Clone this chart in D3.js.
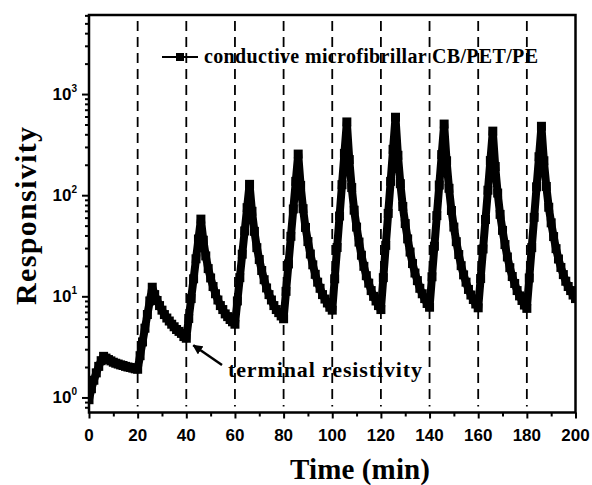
<!doctype html>
<html lang="en">

<head>
    <meta charset="utf-8">
    <title>Responsivity vs time</title>
    <script src="https://cdn.jsdelivr.net/npm/d3@7"></script>
    <style>
        body { margin: 0; background: #fff; }
        svg { display: block; }
        .tick-label { font-family: "Liberation Sans", Arial, sans-serif; font-weight: bold; font-size: 17px; }
        .serif { font-family: "Liberation Serif", "Times New Roman", serif; font-weight: bold; }
    </style>
</head>

<body>
    <svg></svg>

    <script>
        var width = 592;
        var height = 485;

        // sampled every minute, t = 0 ... 200
        var timeMin = d3.range(0, 201, 1);
        var responsivity = [
            0.95, 1.22, 1.48, 1.75, 2.03, 2.31, 2.55, 2.45, 2.37, 2.30, 2.23, 2.18, 2.14, 2.10, 2.07, 2.03, 2.00, 1.98, 1.95, 1.92,
            1.90, 2.59, 3.54, 4.84, 6.61, 9.0, 12.3, 10.4, 9.1, 8.1, 7.3, 6.6, 6.1, 5.7, 5.3, 5.0, 4.7, 4.5, 4.3, 4.0,
            3.85, 6.04, 9.5, 14.9, 23.5, 36.9, 58, 35.9, 25.1, 18.8, 15.2, 12.5, 10.6, 9.2, 8.1, 7.4, 6.7, 6.3, 5.9, 5.6,
            5.3, 9.0, 15.3, 26.1, 44.3, 75.3, 128, 69.3, 43.9, 30.3, 23.1, 18.0, 14.6, 12.1, 10.4, 9.2, 8.1, 7.4, 6.9, 6.4,
            6.0, 11.2, 20.9, 39.2, 73.1, 137, 255, 125, 73.6, 48.0, 34.8, 26.2, 20.5, 16.5, 13.8, 12.0, 10.4, 9.4, 8.6, 7.8,
            7.3, 14.9, 30.4, 62.2, 127, 259, 530, 225, 119, 71.1, 48.4, 34.4, 25.5, 19.8, 16.0, 13.5, 11.4, 10.0, 9.0, 8.1,
            7.4, 15.3, 31.9, 66.1, 137, 284, 590, 248, 130, 77.3, 52.4, 37.0, 27.4, 21.1, 17.0, 14.3, 12.0, 10.6, 9.5, 8.5,
            7.8, 15.6, 31.3, 62.8, 126, 252, 505, 219, 117, 70.6, 48.4, 34.7, 25.9, 20.1, 16.3, 13.8, 11.7, 10.3, 9.3, 8.4,
            7.7, 15.0, 29.4, 57.5, 112, 220, 430, 192, 105, 64.6, 44.9, 32.5, 24.5, 19.2, 15.7, 13.4, 11.4, 10.1, 9.1, 8.2,
            7.6, 15.2, 30.3, 60.4, 121, 240, 480, 219, 122, 76.0, 53.3, 39.0, 29.6, 23.4, 19.3, 16.4, 14.1, 12.5, 11.4, 10.3,
            9.5
        ];
        var switchTimes = [20, 40, 60, 80, 100, 120, 140, 160, 180];
        var xTicks = [0, 20, 40, 60, 80, 100, 120, 140, 160, 180, 200];
        var xMinorTicks = [10, 30, 50, 70, 90, 110, 130, 150, 170, 190];
        var yTicks = [1, 10, 100, 1000];
        var yExponents = ["0", "1", "2", "3"];
        var seriesName = "conductive microfibrillar CB/PET/PE";
        var noteText = "terminal resistivity";
        var noteTime = 40;

        var dataset = timeMin.map(function (t, i) { return [t, responsivity[i]]; });

        var plotLeft = 89, plotRight = 575.5, plotTop = 15, plotBottom = 412.5;

        var xScale = d3.scaleLinear().domain([0, 200]).range([plotLeft, plotRight]);
        var yScale = d3.scaleLog().domain([0.71, 6050]).range([plotBottom, plotTop]);

        var yMinor = [];
        [0.1, 1, 10, 100, 1000].forEach(function (dec) {
            for (var k = 2; k <= 9; k++) {
                var v = dec * k;
                if (v >= 0.71 && v <= 6050) yMinor.push(v);
            }
        });

        var svg = d3.select('svg').attr('width', width).attr('height', height);

        svg.append('clipPath')
            .attr('id', 'plot-area')
            .append('rect')
            .attr('x', plotLeft).attr('y', plotTop)
            .attr('width', plotRight - plotLeft).attr('height', plotBottom - plotTop);

        // dashed switching lines
        svg.append('g')
            .selectAll('line')
            .data(switchTimes)
            .enter()
            .append('line')
            .attr('x1', function (d) { return xScale(d); })
            .attr('x2', function (d) { return xScale(d); })
            .attr('y1', plotTop + 6)
            .attr('y2', plotBottom - 6)
            .attr('stroke', '#000')
            .attr('stroke-width', 1.8)
            .attr('stroke-dasharray', '10,6');

        // data
        var plot = svg.append('g').attr('clip-path', 'url(#plot-area)');
        var line = d3.line()
            .x(function (d) { return xScale(d[0]); })
            .y(function (d) { return yScale(d[1]); });
        plot.append('path')
            .datum(dataset)
            .attr('d', line)
            .attr('fill', 'none')
            .attr('stroke', '#000')
            .attr('stroke-width', 8)
            .attr('stroke-linejoin', 'round');
        plot.selectAll('rect.pt')
            .data(dataset)
            .enter()
            .append('rect')
            .attr('class', 'pt')
            .attr('x', function (d) { return xScale(d[0]) - 4.5; })
            .attr('y', function (d) { return yScale(d[1]) - 4.5; })
            .attr('width', 9)
            .attr('height', 9)
            .attr('fill', '#000');

        // axes
        var xAxis = d3.axisBottom(xScale).tickValues(xTicks).tickSize(6).tickFormat('');
        var xAxisMinor = d3.axisBottom(xScale).tickValues(xMinorTicks).tickSize(4).tickFormat('');
        var yAxis = d3.axisLeft(yScale).tickValues(yTicks).tickSize(7).tickFormat('');
        var yAxisMinor = d3.axisLeft(yScale).tickValues(yMinor).tickSize(4).tickFormat('');

        [xAxis, xAxisMinor].forEach(function (ax) {
            svg.append('g')
                .attr('class', 'axis-x')
                .attr('transform', 'translate(0, ' + plotBottom + ')')
                .call(ax);
        });
        [yAxis, yAxisMinor].forEach(function (ax) {
            svg.append('g')
                .attr('class', 'axis-y')
                .attr('transform', 'translate(' + plotLeft + ', 0)')
                .call(ax);
        });
        svg.selectAll('.axis-x path, .axis-y path').remove();
        svg.selectAll('.tick line').attr('stroke', '#000').attr('stroke-width', 2);

        // frame
        svg.append('rect')
            .attr('x', plotLeft).attr('y', plotTop)
            .attr('width', plotRight - plotLeft).attr('height', plotBottom - plotTop)
            .attr('fill', 'none')
            .attr('stroke', '#000')
            .attr('stroke-width', 2.5);

        // tick labels
        svg.append('g')
            .selectAll('text')
            .data(xTicks)
            .enter()
            .append('text')
            .attr('class', 'tick-label')
            .attr('x', function (d) { return xScale(d); })
            .attr('y', plotBottom + 28)
            .attr('text-anchor', 'middle')
            .text(function (d) { return d; });

        var yLab = svg.append('g')
            .selectAll('text')
            .data(yTicks)
            .enter()
            .append('text')
            .attr('class', 'tick-label')
            .attr('x', 77)
            .attr('y', function (d) { return yScale(d) + 6; })
            .attr('text-anchor', 'end');
        yLab.append('tspan').text('10');
        yLab.append('tspan')
            .attr('dy', -8)
            .attr('font-size', '10px')
            .text(function (d, i) { return yExponents[i]; });

        // axis titles
        svg.append('text')
            .attr('class', 'serif')
            .attr('font-size', '30px')
            .attr('text-anchor', 'middle')
            .attr('textLength', 178)
            .attr('transform', 'translate(36, 216) rotate(-90)')
            .text('Responsivity');
        svg.append('text')
            .attr('class', 'serif')
            .attr('font-size', '29px')
            .attr('text-anchor', 'middle')
            .attr('textLength', 140)
            .attr('x', 360)
            .attr('y', 479)
            .text('Time (min)');

        // legend
        var legY = 57;
        svg.append('line')
            .attr('x1', 162).attr('x2', 198)
            .attr('y1', legY).attr('y2', legY)
            .attr('stroke', '#000').attr('stroke-width', 2);
        svg.append('rect')
            .attr('x', 176).attr('y', legY - 4)
            .attr('width', 8).attr('height', 8)
            .attr('fill', '#000');
        svg.append('text')
            .attr('class', 'serif')
            .attr('font-size', '20px')
            .attr('textLength', 334)
            .attr('x', 204)
            .attr('y', legY + 6)
            .text(seriesName);

        // annotation with arrow
        svg.append('defs').append('marker')
            .attr('id', 'arrow')
            .attr('viewBox', '0 0 10 10')
            .attr('refX', 9).attr('refY', 5)
            .attr('markerWidth', 4).attr('markerHeight', 4)
            .attr('orient', 'auto')
            .append('path')
            .attr('d', 'M0,0 L10,5 L0,10 z')
            .attr('fill', '#000');
        var tipX = xScale(noteTime) + 7, tipY = yScale(responsivity[noteTime]) + 7;
        svg.append('line')
            .attr('x1', 222).attr('y1', 365)
            .attr('x2', tipX).attr('y2', tipY)
            .attr('stroke', '#000')
            .attr('stroke-width', 2.5)
            .attr('marker-end', 'url(#arrow)');
        svg.append('text')
            .attr('class', 'serif')
            .attr('font-size', '22px')
            .attr('textLength', 194)
            .attr('x', 228)
            .attr('y', 377)
            .text(noteText);
    </script>

</body>

</html>
